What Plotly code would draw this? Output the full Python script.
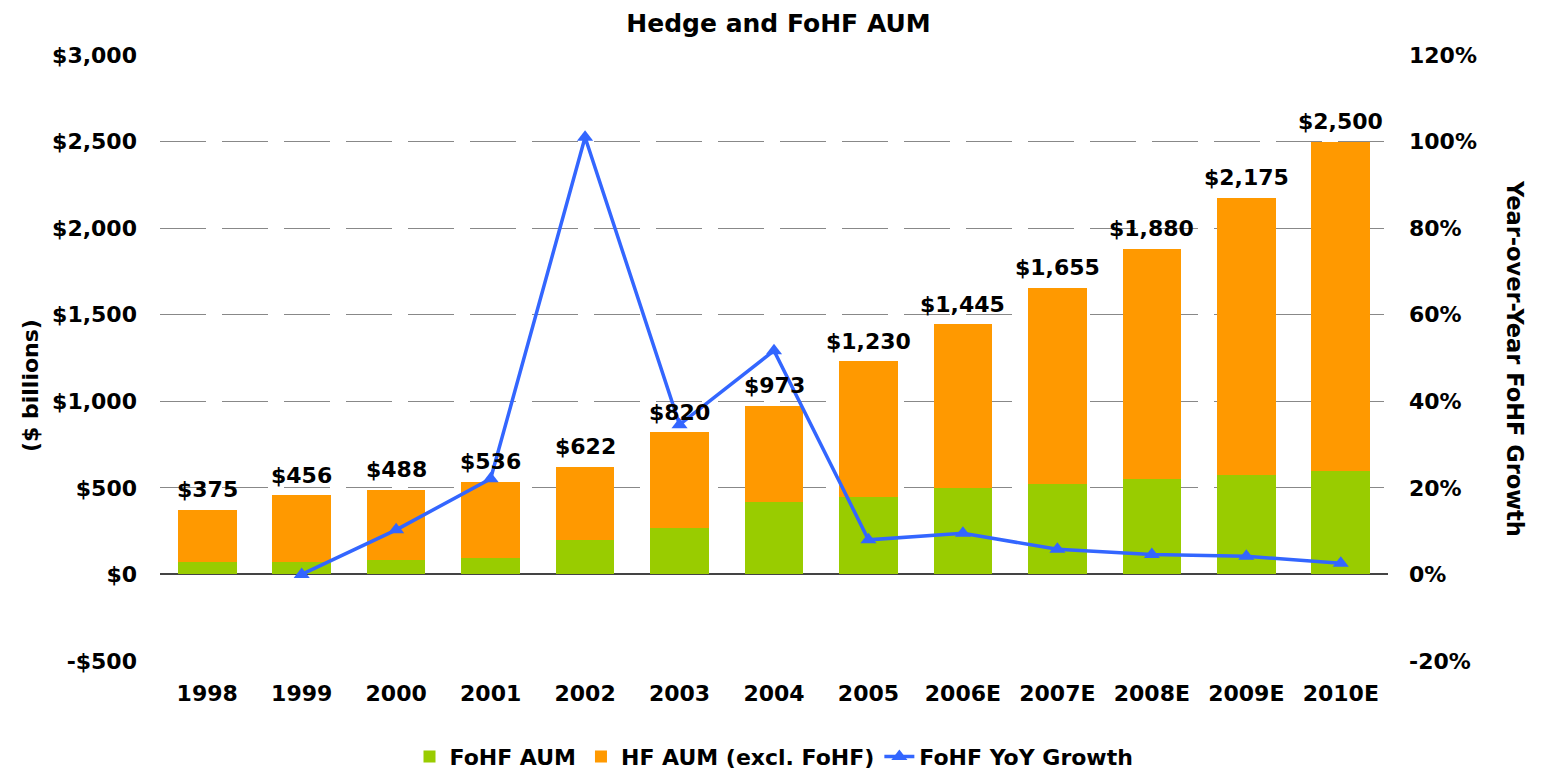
import plotly.graph_objects as go

years = ["1998", "1999", "2000", "2001", "2002", "2003", "2004", "2005",
         "2006E", "2007E", "2008E", "2009E", "2010E"]
total_aum = [375, 456, 488, 536, 622, 820, 973, 1230, 1445, 1655, 1880, 2175, 2500]
fohf_aum = [71, 71, 83, 94, 200, 271, 421, 450, 502, 525, 554, 577, 600]
hf_excl_fohf = [t - f for t, f in zip(total_aum, fohf_aum)]
growth_years = years[1:]
fohf_growth = [0.0, 0.103, 0.221, 1.01, 0.346, 0.517, 0.080, 0.095, 0.058, 0.046, 0.042, 0.026]

left_ticks = [-500, 0, 500, 1000, 1500, 2000, 2500, 3000]
left_ticktext = ["-$500", "$0", "$500", "$1,000", "$1,500", "$2,000", "$2,500", "$3,000"]
right_ticks = [-0.2, 0, 0.2, 0.4, 0.6, 0.8, 1.0, 1.2]
right_ticktext = ["-20%", "0%", "20%", "40%", "60%", "80%", "100%", "120%"]

FONT = "DejaVu Sans"
fig = go.Figure()
fig.add_trace(go.Bar(x=years, y=fohf_aum, name="FoHF AUM", marker_color="#99CC00",
                     marker_line_width=0, width=0.62))
fig.add_trace(go.Bar(x=years, y=hf_excl_fohf, name="HF AUM (excl. FoHF)", marker_color="#FF9900",
                     marker_line_width=0, width=0.62))
fig.add_trace(go.Scatter(x=growth_years, y=fohf_growth, name="FoHF YoY Growth", yaxis="y2",
                         mode="lines+markers", line=dict(color="#3366FF", width=3.5),
                         marker=dict(symbol="triangle-up", size=14, color="#3366FF")))

# data labels: x is the category index on the category axis
for i, tot in enumerate(total_aum):
    fig.add_annotation(x=i, y=tot, xref="x", yref="y", text="<b>$" + format(tot, ",") + "</b>",
                       showarrow=False, yanchor="middle", yshift=20,
                       font=dict(family=FONT, size=22, color="black"))

fig.update_layout(
    width=1541, height=770,
    barmode="stack",
    plot_bgcolor="white", paper_bgcolor="white",
    font=dict(family=FONT, size=22, color="black", weight="bold"),
    title=dict(text="<b>Hedge and FoHF AUM</b>", x=0.5, xanchor="center", y=0.9805, yanchor="middle",
               font=dict(family=FONT, size=25, color="black")),
    margin=dict(l=152, r=161, t=47, b=117, autoexpand=False),
    xaxis=dict(type="category", categoryorder="array", categoryarray=years,
               showline=False, ticks="", tickfont=dict(size=22, family=FONT, weight="bold"),
               range=[-0.5, 12.5], ticklabelstandoff=17),
    yaxis=dict(range=[-500, 3000], tickvals=left_ticks, ticktext=left_ticktext,
               showgrid=True, gridcolor="#888888", gridwidth=1, griddash="46px,16px",
               zeroline=True, zerolinecolor="#444444", zerolinewidth=2,
               ticks="", ticklabelstandoff=22,
               tickfont=dict(size=22, family=FONT, weight="bold")),
    yaxis2=dict(range=[-0.2, 1.2], tickvals=right_ticks, ticktext=right_ticktext,
                overlaying="y", side="right", showgrid=False, zeroline=False, ticks="",
                ticklabelstandoff=20, tickfont=dict(size=22, family=FONT, weight="bold")),
    legend=dict(orientation="h", x=0.5, xanchor="center", y=-0.158, yanchor="middle",
                font=dict(size=22, family=FONT, weight="bold"), traceorder="normal"),
    showlegend=True,
)
fig.add_annotation(text="<b>($ billions)</b>", textangle=-90,
                   xref="paper", yref="paper", x=0.0, xanchor="center", xshift=-130,
                   y=0.5, yanchor="middle", yshift=-28,
                   showarrow=False, font=dict(size=22, family=FONT, color="black"))
fig.add_annotation(text="<b>Year-over-Year FoHF Growth</b>", textangle=90,
                   xref="paper", yref="paper", x=1.0, xanchor="center", xshift=127,
                   y=0.5, yanchor="middle", yshift=0,
                   showarrow=False, font=dict(size=22.5, family=FONT, color="black"))

fig.write_html("out.html")
